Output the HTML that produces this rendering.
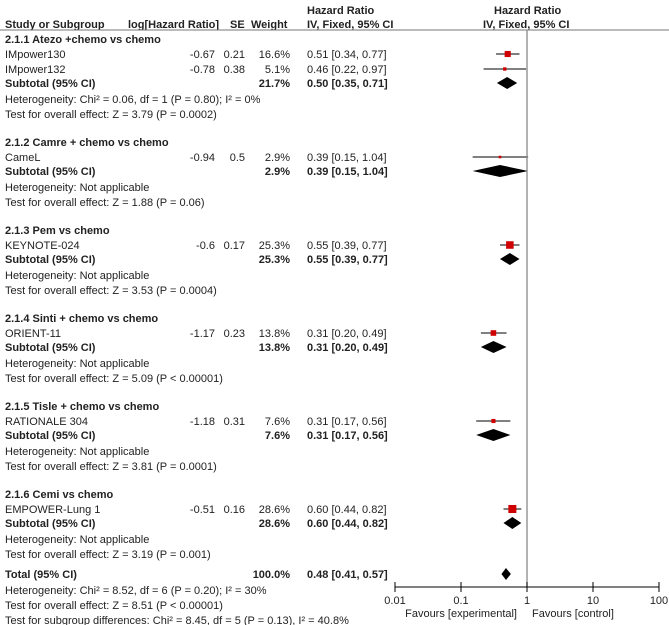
<!DOCTYPE html>
<html><head><meta charset="utf-8"><style>
body{margin:0;background:#fff;width:669px;height:625px;overflow:hidden}
svg{display:block;font-family:"Liberation Sans",Arial,sans-serif;font-size:11px;fill:#222}
.b{font-weight:bold}
</style></head><body>
<svg id="chart" width="669" height="625" viewBox="0 0 669 625" xmlns="http://www.w3.org/2000/svg">
<g>
<text x="307" y="14" class="b">Hazard Ratio</text>
<text x="494" y="14" class="b">Hazard Ratio</text>
<text x="5" y="28" class="b">Study or Subgroup</text>
<text x="128" y="28" class="b">log[Hazard Ratio]</text>
<text x="230" y="28" class="b">SE</text>
<text x="251" y="28" class="b">Weight</text>
<text x="307" y="28" class="b">IV, Fixed, 95% CI</text>
<text x="483" y="28" class="b">IV, Fixed, 95% CI</text>
<line x1="0" y1="30" x2="669" y2="30" stroke="#777" stroke-width="1"/>
</g>
<g id="rows"></g>
<g id="marks"></g>
<g id="axis"></g>
</svg>
<script>
const groupTitles=["2.1.1 Atezo +chemo vs chemo","2.1.2 Camre + chemo vs chemo","2.1.3 Pem vs chemo","2.1.4 Sinti + chemo vs chemo","2.1.5 Tisle + chemo vs chemo","2.1.6 Cemi vs chemo"];
const studyNames=[["IMpower130","IMpower132"],["CameL"],["KEYNOTE-024"],["ORIENT-11"],["RATIONALE 304"],["EMPOWER-Lung 1"]];
const studyLogHR=[[-0.67,-0.78],[-0.94],[-0.6],[-1.17],[-1.18],[-0.51]];
const studySE=[[0.21,0.38],[0.5],[0.17],[0.23],[0.31],[0.16]];
const studyWeight=[[16.6,5.1],[2.9],[25.3],[13.8],[7.6],[28.6]];
const studyHR=[[0.51,0.46],[0.39],[0.55],[0.31],[0.31],[0.60]];
const studyLo=[[0.34,0.22],[0.15],[0.39],[0.20],[0.17],[0.44]];
const studyHi=[[0.77,0.97],[1.04],[0.77],[0.49],[0.56],[0.82]];
const subWeight=[21.7,2.9,25.3,13.8,7.6,28.6];
const subHR=[0.50,0.39,0.55,0.31,0.31,0.60];
const subLo=[0.35,0.15,0.39,0.20,0.17,0.44];
const subHi=[0.71,1.04,0.77,0.49,0.56,0.82];
const hetText=["Heterogeneity: Chi² = 0.06, df = 1 (P = 0.80); I² = 0%","Heterogeneity: Not applicable","Heterogeneity: Not applicable","Heterogeneity: Not applicable","Heterogeneity: Not applicable","Heterogeneity: Not applicable"];
const testText=["Test for overall effect: Z = 3.79 (P = 0.0002)","Test for overall effect: Z = 1.88 (P = 0.06)","Test for overall effect: Z = 3.53 (P = 0.0004)","Test for overall effect: Z = 5.09 (P < 0.00001)","Test for overall effect: Z = 3.81 (P = 0.0001)","Test for overall effect: Z = 3.19 (P = 0.001)"];
const totalHR=0.48, totalLo=0.41, totalHi=0.57;
const tickValues=[0.01,0.1,1,10,100];
const tickLabels=["0.01","0.1","1","10","100"];

const NS="http://www.w3.org/2000/svg";
const X0=527,DEC=66;
function xs(v){return X0+DEC*Math.log10(v);}
const rows=document.getElementById('rows'),marks=document.getElementById('marks'),axis=document.getElementById('axis');
function el(tag,attrs,parent){const e=document.createElementNS(NS,tag);for(const k in attrs)e.setAttribute(k,attrs[k]);parent.appendChild(e);return e;}
function txt(s,x,y,opts,name){const t=el('text',{x:x,y:y},rows);


if(opts&&opts.end)t.setAttribute('text-anchor','end');if(opts&&opts.b)t.setAttribute('class','b');t.textContent=s;return t;}
function f2(v){return v.toFixed(2);}
function ci(h,l,u){return f2(h)+" ["+f2(l)+", "+f2(u)+"]";}
function diamond(y,h,l,u,hh,name){const p=el('polygon',{points:`${xs(l)},${y} ${xs(h)},${y-hh} ${xs(u)},${y} ${xs(h)},${y+hh}`,fill:'#000'},marks);

}

let y=43;
for(let g=0;g<groupTitles.length;g++){
  txt(groupTitles[g],5,y,{b:1},'group-title');
  y+=15;
  for(let i=0;i<studyNames[g].length;i++){
    txt(studyNames[g][i],5,y,{},'study-name');
    txt(String(studyLogHR[g][i]),215,y,{end:1},'log-hr');
    txt(String(studySE[g][i]),245,y,{end:1},'se');
    txt(studyWeight[g][i].toFixed(1)+"%",290,y,{end:1},'weight');
    txt(ci(studyHR[g][i],studyLo[g][i],studyHi[g][i]),307,y,{},'hr-ci');
    const cy=y-4;
    const ln=el('line',{x1:xs(studyLo[g][i]),x2:xs(studyHi[g][i]),y1:cy,y2:cy,stroke:'#000','stroke-width':1},marks);
    
    
    const s=Math.max(2,1.5*Math.sqrt(studyWeight[g][i]));
    const sq=el('rect',{x:xs(studyHR[g][i])-s/2,y:cy-s/2,width:s,height:s,fill:'#d00000'},marks);
    
    
    y+=15;
  }
  txt("Subtotal (95% CI)",5,y-1,{b:1},'subtotal-label');
  txt(subWeight[g].toFixed(1)+"%",290,y-1,{end:1,b:1},'subtotal-weight');
  txt(ci(subHR[g],subLo[g],subHi[g]),307,y-1,{b:1},'subtotal-ci');
  diamond(y-5,subHR[g],subLo[g],subHi[g],6,'subtotal-diamond');
  y+=15;
  txt(hetText[g],5,y,{},'heterogeneity');
  y+=15;
  txt(testText[g],5,y,{},'overall-effect');
  y+=28;
}
y=578;
txt("Total (95% CI)",5,y,{b:1},'total-label');
txt("100.0%",290,y,{end:1,b:1},'total-weight');
txt(ci(totalHR,totalLo,totalHi),307,y,{b:1},'total-ci');
diamond(y-4,totalHR,totalLo,totalHi,6,'total-diamond');
txt("Heterogeneity: Chi² = 8.52, df = 6 (P = 0.20); I² = 30%",5,594,{},'total-heterogeneity');
txt("Test for overall effect: Z = 8.51 (P < 0.00001)",5,609,{},'total-overall-effect');
txt("Test for subgroup differences: Chi² = 8.45, df = 5 (P = 0.13), I² = 40.8%",5,624,{},'subgroup-differences');

const vl=el('line',{x1:xs(1),x2:xs(1),y1:30,y2:587,stroke:'#888','stroke-width':1.3},axis);


const al=el('line',{x1:xs(tickValues[0]),x2:xs(tickValues[tickValues.length-1]),y1:587,y2:587,stroke:'#000','stroke-width':1},axis);


tickValues.forEach((v,i)=>{
  const t=el('line',{x1:xs(v),x2:xs(v),y1:582,y2:592,stroke:'#000','stroke-width':1},axis);
  
  
  const lb=el('text',{x:xs(v),y:604,'text-anchor':'middle'},axis);
  
  
  lb.textContent=tickLabels[i];
});
const f1=el('text',{x:517,y:617,'text-anchor':'end'},axis);


f1.textContent="Favours [experimental]";
const f2e=el('text',{x:532,y:617},axis);


f2e.textContent="Favours [control]";
</script>
</body></html>
